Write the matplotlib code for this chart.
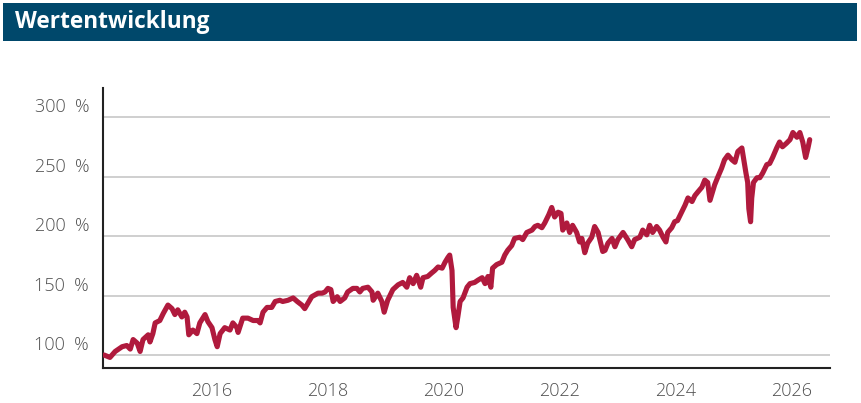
import matplotlib
matplotlib.use("Agg")
import matplotlib.pyplot as plt
from matplotlib.patches import Rectangle
from matplotlib.transforms import ScaledTranslation

# decimal years and performance values (%)
years = [
    2014.14, 2014.24, 2014.33, 2014.45, 2014.53, 2014.59, 2014.64, 2014.71, 2014.76, 2014.81,
    2014.90, 2014.93, 2014.98, 2015.02, 2015.10, 2015.16, 2015.24, 2015.31, 2015.36, 2015.41,
    2015.48, 2015.53, 2015.57, 2015.60, 2015.67, 2015.74, 2015.79, 2015.88, 2015.93, 2016.00,
    2016.05, 2016.09, 2016.14, 2016.22, 2016.31, 2016.36, 2016.43, 2016.45, 2016.53, 2016.62,
    2016.71, 2016.79, 2016.83, 2016.88, 2016.95, 2017.03, 2017.09, 2017.17, 2017.22, 2017.31,
    2017.40, 2017.47, 2017.55, 2017.60, 2017.66, 2017.72, 2017.83, 2017.90, 2017.95, 2018.00,
    2018.05, 2018.09, 2018.16, 2018.21, 2018.29, 2018.34, 2018.43, 2018.50, 2018.55, 2018.60,
    2018.69, 2018.76, 2018.78, 2018.86, 2018.93, 2018.97, 2019.03, 2019.12, 2019.21, 2019.29,
    2019.36, 2019.41, 2019.47, 2019.53, 2019.60, 2019.64, 2019.72, 2019.79, 2019.84, 2019.90,
    2019.97, 2020.02, 2020.07, 2020.10, 2020.14, 2020.16, 2020.21, 2020.24, 2020.28, 2020.33,
    2020.40, 2020.45, 2020.53, 2020.59, 2020.66, 2020.71, 2020.76, 2020.81, 2020.84, 2020.91,
    2021.00, 2021.05, 2021.10, 2021.17, 2021.22, 2021.31, 2021.36, 2021.43, 2021.52, 2021.57,
    2021.62, 2021.69, 2021.74, 2021.81, 2021.86, 2021.91, 2021.97, 2022.02, 2022.05, 2022.12,
    2022.17, 2022.22, 2022.29, 2022.34, 2022.38, 2022.43, 2022.48, 2022.55, 2022.60, 2022.66,
    2022.69, 2022.74, 2022.78, 2022.83, 2022.90, 2022.95, 2023.00, 2023.09, 2023.17, 2023.24,
    2023.29, 2023.38, 2023.43, 2023.50, 2023.55, 2023.60, 2023.67, 2023.72, 2023.78, 2023.83,
    2023.86, 2023.93, 2023.98, 2024.03, 2024.10, 2024.16, 2024.21, 2024.28, 2024.33, 2024.38,
    2024.45, 2024.50, 2024.55, 2024.59, 2024.64, 2024.67, 2024.72, 2024.79, 2024.84, 2024.90,
    2024.97, 2025.02, 2025.07, 2025.14, 2025.16, 2025.21, 2025.24, 2025.26, 2025.29, 2025.31,
    2025.34, 2025.40, 2025.45, 2025.50, 2025.57, 2025.62, 2025.67, 2025.74, 2025.79, 2025.84,
    2025.91, 2025.97, 2026.02, 2026.09, 2026.14, 2026.19, 2026.24, 2026.28, 2026.31,
]
values = [
    100, 98, 103, 107, 108, 105, 113, 110, 103, 113,
    117, 111, 118, 127, 129, 135, 142, 139, 134, 138,
    132, 136, 132, 117, 121, 118, 127, 134, 128, 123,
    113, 107, 118, 123, 121, 127, 123, 119, 131, 131,
    129, 129, 127, 136, 140, 140, 145, 146, 145, 146,
    148, 145, 142, 139, 144, 149, 152, 152, 153, 156,
    155, 145, 149, 145, 148, 153, 156, 156, 153, 156,
    157, 153, 146, 152, 145, 136, 146, 155, 159, 161,
    157, 165, 160, 167, 157, 165, 166, 169, 171, 174,
    173, 178, 182, 184, 171, 140, 123, 132, 145, 148,
    157, 160, 161, 163, 165, 160, 166, 157, 173, 176,
    178, 184, 188, 192, 198, 199, 197, 203, 205, 208,
    209, 207, 211, 218, 224, 216, 220, 219, 205, 211,
    203, 209, 203, 195, 198, 186, 194, 199, 208, 203,
    197, 187, 188, 194, 198, 191, 197, 203, 197, 191,
    197, 199, 205, 201, 209, 203, 208, 205, 199, 195,
    203, 207, 212, 213, 220, 226, 232, 229, 234, 237,
    241, 247, 245, 230, 238, 243, 249, 257, 264, 268,
    264, 262, 271, 274, 268, 253, 245, 223, 212, 232,
    245, 249, 249, 253, 260, 261, 266, 274, 279, 275,
    278, 281, 287, 283, 287, 279, 266, 274, 281,
]
x_ticks = [2016, 2018, 2020, 2022, 2024, 2026]
y_ticks = [100, 150, 200, 250, 300]
title = "Wertentwicklung"

W, H = 861, 403
fig = plt.figure(figsize=(W / 100, H / 100), dpi=100)
fig.patch.set_facecolor("white")

# title bar
fig.patches.append(Rectangle((3 / W, 1 - 41 / H), 854 / W, 38 / H,
                             transform=fig.transFigure, facecolor="#00486b",
                             edgecolor="none", zorder=0))
fig.text(15 / W, 1 - 22 / H, title, color="white", fontsize=16.3,
         fontweight="bold", family="Open Sans", va="center", ha="left")

ax = fig.add_axes([103 / W, (H - 368) / H, (830 - 103) / W, (368 - 88) / H])
ax.plot(years, values, color="#b01a3d", lw=3.7, solid_joinstyle="round",
        solid_capstyle="round", zorder=3)

ax.set_xlim(2014.12, 2026.66)
ax.set_ylim(89.1, 324.4)
ax.set_xticks(x_ticks)
ax.set_xticklabels([str(t) for t in x_ticks])
ax.set_yticks(y_ticks)
ax.set_yticklabels([f"{t}  %" for t in y_ticks])
ax.grid(axis="y", color="#cfcfcf", lw=1.4, zorder=0)
ax.grid(axis="x", visible=False)
for s in ("top", "right"):
    ax.spines[s].set_visible(False)
for s in ("left", "bottom"):
    ax.spines[s].set_color("#222222")
    ax.spines[s].set_linewidth(1.5)
ax.tick_params(axis="both", length=0, labelsize=13, labelcolor="#505050")
ax.tick_params(axis="y", pad=10)
ax.tick_params(axis="x", pad=10)
for lbl in ax.get_xticklabels() + ax.get_yticklabels():
    lbl.set_family("Open Sans")
    lbl.set_fontweight("light")
shift = ScaledTranslation(0, 12 / 100, fig.dpi_scale_trans)
for lbl in ax.get_yticklabels():
    lbl.set_transform(lbl.get_transform() + shift)

fig.savefig("out.png", dpi=100, facecolor="white")
